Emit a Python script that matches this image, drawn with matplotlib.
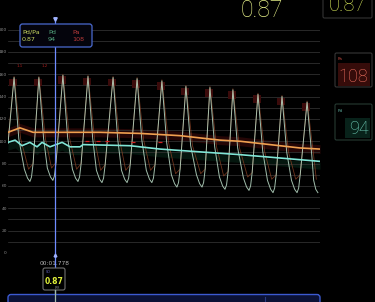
import matplotlib
matplotlib.use("Agg")
import matplotlib.pyplot as plt
from matplotlib.patches import FancyBboxPatch, Rectangle

# pressure trace (time in s, pressure in mmHg)
peak_t = [0.23, 1.17, 2.08, 3.03, 3.98, 4.89, 5.83, 6.74, 7.65, 8.52, 9.47, 10.38, 11.33]
peak_v = [157, 157, 159, 158, 157, 156, 154, 149, 148, 146, 142, 140, 135]
trough_t = [0.83, 1.70, 2.65, 3.56, 4.51, 5.45, 6.40, 7.35, 8.22, 9.13, 10.04, 10.95, 11.74]
trough_v = [64, 65, 64, 63, 63, 63, 59, 59, 57, 56, 54, 54, 54]

# Pd waveform knees on the falling limb and start of the upstroke
pd_k1_t = [0.41, 1.35, 2.26, 3.21, 4.16, 5.07, 6.01, 6.92, 7.83, 8.70, 9.65, 10.56, 11.51]
pd_k1_v = [102, 102, 103, 102, 101, 101, 99, 96, 95, 94, 91, 90, 87]
pd_k2_t = [0.62, 1.49, 2.44, 3.35, 4.30, 5.24, 6.19, 7.14, 8.01, 8.92, 9.83, 10.74, 11.58]
pd_k2_v = [75, 76, 75, 74, 74, 74, 70, 70, 68, 67, 65, 65, 65]
pd_k3_t = [0.74, 1.61, 2.56, 3.47, 4.42, 5.36, 6.31, 7.26, 8.13, 9.04, 9.95, 10.86, 11.66]
pd_k3_v = [67, 68, 67, 66, 66, 66, 62, 62, 60, 59, 57, 57, 57]
rise_t = [0.89, 1.76, 2.71, 3.62, 4.57, 5.51, 6.46, 7.41, 8.28, 9.19, 10.10, 11.01]
rise_v = [68, 69, 68, 67, 67, 67, 63, 63, 61, 60, 58, 58]
rise2_t = [0.95, 1.82, 2.77, 3.68, 4.63, 5.57, 6.52, 7.47, 8.34, 9.25, 10.16, 11.07]
rise2_v = [80, 81, 80, 79, 79, 79, 75, 75, 73, 72, 70, 70]

# Pa waveform (falls more slowly)
pa_k1_t = [0.48, 1.42, 2.33, 3.28, 4.23, 5.14, 6.08, 6.99, 7.90, 8.77, 9.72, 10.63, 11.58]
pa_k1_v = [102, 102, 103, 102, 101, 101, 99, 96, 95, 94, 91, 90, 87]
pa_k2_t = [0.78, 1.65, 2.60, 3.51, 4.46, 5.40, 6.35, 7.30, 8.17, 9.08, 9.99, 10.90, 11.68]
pa_k2_v = [75, 76, 75, 74, 74, 74, 71, 71, 69, 68, 66, 66, 66]

# mean pressures
pa_mean_t = [0, 0.45, 0.95, 1.97, 3.48, 5.0, 6.52, 7.27, 8.03, 8.79, 9.55, 10.30, 11.06, 11.82]
pa_mean = [108, 112, 108, 108, 108, 107, 105, 103, 101, 100, 98, 96, 94, 93]
pd_mean_t = [0, 0.27, 0.53, 0.83, 1.10, 1.29, 1.59, 2.05, 2.35, 2.73, 2.84, 4.62, 5.76,
             7.27, 8.79, 10.30, 11.06, 11.82]
pd_mean = [99, 101, 96, 99, 95, 99, 95, 99, 95, 95, 97, 96, 93, 90.5, 88, 85, 83.5, 82]

# small red event marks on the Pd mean line
mark_t = [3.0, 3.41, 3.75, 4.73, 5.76]
mark_v = [100, 100, 100, 99.5, 99]

cursor_t = 1.778
ratio = 0.87
pd_val = 94
pa_val = 108
y_ticks = list(range(0, 201, 20))

BG = "#000000"
PD_WAVE = "#b2d2be"
PA_WAVE = "#9a4828"
PA_COL = "#f0a050"
PD_COL = "#80e6d6"
YELLOW = "#e2ec86"
CURSOR = "#6f8cff"

fig = plt.figure(figsize=(3.75, 3.02), dpi=100, facecolor=BG)
W, H = 375, 302
ax = fig.add_axes([8 / W, 49 / H, 312 / W, 223.5 / H], facecolor=BG)
ax.set_xlim(0, 11.82)
ax.set_ylim(0, 200)
for s in ax.spines.values():
    s.set_visible(False)
ax.set_xticks([])
ax.set_yticks(y_ticks)
ax.set_yticks(range(0, 201, 10), minor=True)
ax.tick_params(axis="y", which="both", length=0, pad=0.8, labelsize=3.2, labelcolor="#8a8a8a")
ax.grid(True, which="both", axis="y", color="#333333", lw=0.55)
ax.set_axisbelow(True)

# shaded bands behind the means
ax.fill_between(pa_mean_t, [v - 4 for v in pa_mean], [v + 4 for v in pa_mean],
                color="#240606", lw=0, zorder=0.5)
ax.fill_between(pd_mean_t, [v - 7 for v in pd_mean], [v - 1 for v in pd_mean],
                color="#04160e", lw=0, zorder=0.5)
for t, v in zip(peak_t, peak_v):
    ax.add_patch(Rectangle((t - 0.2, v - 8), 0.32, 7, color="#3c0b0b", lw=0, zorder=0.6))

# build the polylines beat by beat
pd_t, pd_v = [0.0], [98]
pa_t, pa_v = [0.0], [100]
for i in range(len(peak_t)):
    pd_t += [peak_t[i], pd_k1_t[i], pd_k2_t[i], pd_k3_t[i], trough_t[i]]
    pd_v += [peak_v[i], pd_k1_v[i], pd_k2_v[i], pd_k3_v[i], trough_v[i]]
    pa_t += [peak_t[i], pa_k1_t[i], pa_k2_t[i]]
    pa_v += [peak_v[i] + 1, pa_k1_v[i], pa_k2_v[i]]
    if i < len(rise_t):
        pd_t += [rise_t[i], rise2_t[i]]
        pd_v += [rise_v[i], rise2_v[i]]
        pa_t.append(rise2_t[i])
        pa_v.append(rise2_v[i])

ax.plot(pa_t, pa_v, color=PA_WAVE, lw=0.6, alpha=0.7, zorder=2)
ax.plot(pd_t, pd_v, color=PD_WAVE, lw=0.7, alpha=0.9, zorder=3, solid_joinstyle="round")
ax.plot(pa_mean_t, pa_mean, color=PA_COL, lw=1.2, zorder=4)
ax.plot(pd_mean_t, pd_mean, color=PD_COL, lw=1.2, zorder=4)
ax.plot(mark_t, mark_v, ls="none", marker="_", ms=2.5, mew=0.9, color="#d42020", zorder=5)
ax.text(0.45, 166, "1.1", color="#b02020", fontsize=2.8, ha="center", zorder=5)
ax.text(1.40, 166, "1.2", color="#b02020", fontsize=2.8, ha="center", zorder=5)

# cursor
ax.axvline(cursor_t, ymin=-0.22, ymax=1.05, color=CURSOR, lw=0.9, clip_on=False, zorder=6)
ax.plot([cursor_t], [209.5], marker="v", ms=2.5, color="#9fb2ff", clip_on=False, zorder=7)
ax.plot([cursor_t], [-1.5], marker="^", ms=2, color="#9fb2ff", clip_on=False, zorder=7)
mm, ss = divmod(cursor_t, 60)
ax.text(cursor_t, -9, f"{int(mm):02d}:{ss:06.3f}", color="#b4b4b4", fontsize=4.2,
        ha="center", va="center", clip_on=False, zorder=5)

# ui overlay in pixel coordinates
ui = fig.add_axes([0, 0, 1, 1], facecolor="none")
ui.set_xlim(0, W)
ui.set_ylim(H, 0)
ui.axis("off")


def box(x, y, w, h, edge, face, r=2.0, lw=0.8):
    ui.add_patch(FancyBboxPatch((x, y), w, h, boxstyle=f"round,pad=0,rounding_size={r}",
                                ec=edge, fc=face, lw=lw))


# tooltip
box(20, 24, 72, 23, "#4a6ad0", "#04040c", r=2.5, lw=0.9)
ui.text(22, 32, "Pd/Pa", color="#c8d860", fontsize=4.6, va="center")
ui.text(22, 39.5, f"{ratio:.2f}", color="#c8d860", fontsize=4.6, va="center")
ui.text(48, 32, "Pd", color="#55a880", fontsize=4.6, va="center")
ui.text(48, 39.5, f"{pd_val}", color="#55a880", fontsize=4.6, va="center")
ui.text(72, 32, "Pa", color="#b83a3a", fontsize=4.6, va="center")
ui.text(72, 39.5, f"{pa_val}", color="#b83a3a", fontsize=4.6, va="center")

# big ratio at the top
ui.text(262, 17, f"{ratio:.2f}", color=YELLOW, fontsize=16.5, family="Roboto",
        fontweight="light", ha="center", va="baseline")

# right-hand value panels
box(323, -4, 49, 22, "#333333", BG, r=1.5)
ui.text(366, 11, f"{ratio:.2f}", color="#d8e85a", fontsize=14.5, family="Roboto",
        fontweight="light", ha="right", va="baseline")
box(335, 53, 37, 34, "#363636", BG, r=1.5)
ui.add_patch(Rectangle((337.5, 63), 32, 23, color="#360c0a", lw=0))
ui.text(338, 59.5, "Pa", color="#c04a40", fontsize=3, va="center")
ui.text(368.5, 81.5, f"{pa_val}", color="#f07060", fontsize=13, family="Roboto",
        fontweight="light", ha="right", va="baseline")
box(335, 104, 37, 36, "#263a32", BG, r=1.5)
ui.add_patch(Rectangle((345, 118), 24.5, 20, color="#08221a", lw=0))
ui.text(337.5, 110.5, "Pd", color="#60b0a0", fontsize=3, va="center")
ui.text(368.5, 133.5, f"{pd_val}", color="#72d2bc", fontsize=13, family="Roboto",
        fontweight="light", ha="right", va="baseline")

# bottom bar
box(8, 294.5, 312, 20, "#3c5ad0", "#0b1236", r=3, lw=1)
ui.plot([265, 265], [296.5, 302], color="#2a3a80", lw=0.8)
cx = ax.transData.transform((cursor_t, 0))[0] * W / fig.bbox.width
ui.plot([cx, cx], [290, 302], color="#a0b8a8", lw=0.9)

# ratio at cursor
box(43, 268, 22, 22, "#707070", BG, r=2, lw=0.8)
ui.text(45.5, 272, "SD", color="#6868c8", fontsize=2.4, va="center")
ui.text(54.5, 281, f"{ratio:.2f}", color="#e0f03a", fontsize=5.5, fontweight="bold",
        ha="center", va="center")
ui.text(57, 288, "FFR", color="#8a8a8a", fontsize=2.2, ha="center", va="center")

fig.savefig("out.png", dpi=100, facecolor=BG)
